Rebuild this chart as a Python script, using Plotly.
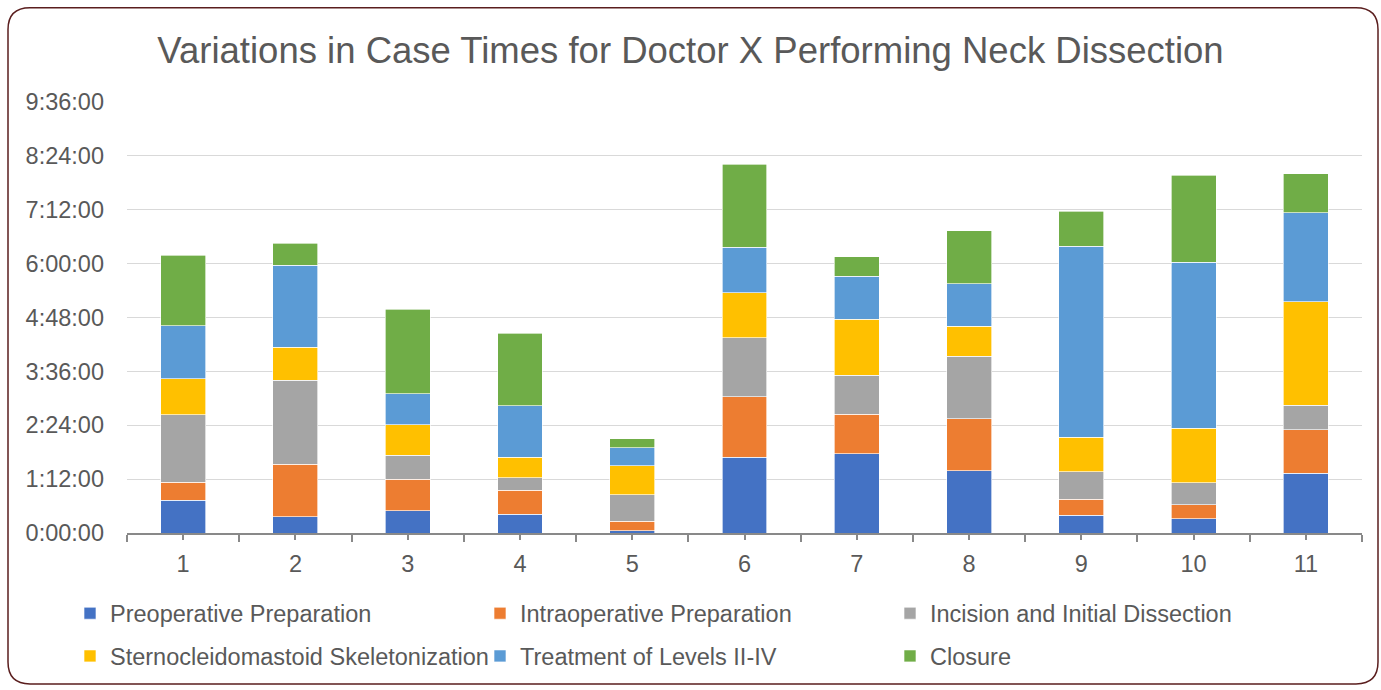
import plotly.graph_objects as go

# Case numbers and per-phase durations (minutes)
cases = [1, 2, 3, 4, 5, 6, 7, 8, 9, 10, 11]
preoperative = [44, 22, 30, 25, 3, 101, 106, 83, 24, 19, 80]
intraoperative = [24, 70, 42, 32, 13, 81, 53, 70, 21, 19, 58]
incision = [90, 112, 32, 17, 35, 79, 52, 83, 37, 29, 33]
scm_skeletonization = [48, 44, 41, 27, 39, 60, 75, 40, 46, 73, 138]
levels_ii_iv = [71, 110, 41, 69, 24, 61, 57, 57, 255, 222, 119]
closure = [94, 29, 113, 97, 12, 111, 26, 71, 47, 116, 52]

series_names = [
    "Preoperative Preparation",
    "Intraoperative Preparation",
    "Incision and Initial Dissection",
    "Sternocleidomastoid Skeletonization",
    "Treatment of Levels II-IV",
    "Closure",
]
series_values = [preoperative, intraoperative, incision,
                 scm_skeletonization, levels_ii_iv, closure]
colors = ["#4472C4", "#ED7D31", "#A5A5A5", "#FFC000", "#5B9BD5", "#70AD47"]

# y ticks every 1:12:00 (72 minutes)
tick_minutes = [0, 72, 144, 216, 288, 360, 432, 504, 576]
tick_labels = ["0:00:00", "1:12:00", "2:24:00", "3:36:00", "4:48:00",
               "6:00:00", "7:12:00", "8:24:00", "9:36:00"]

W, H = 1381, 690
ML, MR, MT, MB = 127, 19, 102, 154
PW, PH = W - ML - MR, H - MT - MB

FONT = "Liberation Sans, Arial, sans-serif"
TEXT = "#595959"
LABEL_SIZE = 23.5

fig = go.Figure()
for i, (name, vals, col) in enumerate(zip(series_names, series_values, colors)):
    fig.add_trace(go.Bar(
        x=cases, y=vals, name=name,
        marker=dict(color=col, line=dict(color="rgba(255,255,255,0.8)", width=0.8)),
        legend="legend" if i < 3 else "legend2",
    ))


def px_x(p):
    return (p - ML) / PW


def px_y(p):
    return (H - MB - p) / PH


def rounded_rect(x0, y0, x1, y1, r):
    # pixel box -> paper-coordinate path with rounded corners
    pts = [
        f"M {px_x(x0 + r)},{px_y(y0)}",
        f"L {px_x(x1 - r)},{px_y(y0)}",
        f"Q {px_x(x1)},{px_y(y0)} {px_x(x1)},{px_y(y0 + r)}",
        f"L {px_x(x1)},{px_y(y1 - r)}",
        f"Q {px_x(x1)},{px_y(y1)} {px_x(x1 - r)},{px_y(y1)}",
        f"L {px_x(x0 + r)},{px_y(y1)}",
        f"Q {px_x(x0)},{px_y(y1)} {px_x(x0)},{px_y(y1 - r)}",
        f"L {px_x(x0)},{px_y(y0 + r)}",
        f"Q {px_x(x0)},{px_y(y0)} {px_x(x0 + r)},{px_y(y0)}",
        "Z",
    ]
    return " ".join(pts)


boundaries = [c - 0.5 for c in cases] + [cases[-1] + 0.5]

legend_common = dict(
    orientation="h", xref="paper", yref="paper",
    xanchor="left", yanchor="middle", traceorder="normal",
    font=dict(family=FONT, size=LABEL_SIZE, color=TEXT),
    entrywidthmode="pixels", entrywidth=365,
    bgcolor="rgba(0,0,0,0)", itemclick=False,
)

fig.update_layout(
    width=W, height=H,
    margin=dict(l=ML, r=MR, t=MT, b=MB),
    paper_bgcolor="white", plot_bgcolor="white",
    barmode="stack", bargap=0.6,
    font=dict(family=FONT, color=TEXT),
    title=dict(
        text="Variations in Case Times for Doctor X Performing Neck Dissection",
        x=0.5, xanchor="center", y=1 - 50 / H, yanchor="middle",
        font=dict(family=FONT, size=36.5, color=TEXT),
    ),
    xaxis=dict(
        range=[0.5, 11.5], tickvals=cases, ticktext=[str(c) for c in cases],
        showgrid=False, zeroline=False,
        showline=True, linecolor="#898989", linewidth=1.5,
        ticks="outside", ticklen=5, tickcolor="#898989", tickwidth=1.5,
        minor=dict(tickvals=boundaries, ticks="outside", ticklen=7,
                   tickcolor="#898989", tickwidth=1.5, showgrid=False),
        ticklabelstandoff=4,
        tickfont=dict(family=FONT, size=LABEL_SIZE, color=TEXT),
    ),
    xaxis2=dict(
        overlaying="x", anchor="y", side="bottom", matches="x",
        range=[0.5, 11.5], tickvals=cases, showticklabels=False,
        showgrid=False, zeroline=False, showline=False,
        ticks="inside", ticklen=5, tickcolor="#898989", tickwidth=1.5,
        minor=dict(tickvals=boundaries, ticks="inside", ticklen=6,
                   tickcolor="#898989", tickwidth=1.5, showgrid=False),
    ),
    yaxis=dict(
        range=[0, 576], tickvals=tick_minutes, ticktext=tick_labels,
        showgrid=True, gridcolor="#D9D9D9", gridwidth=1.3,
        zeroline=False, showline=False, ticks="",
        ticklabelstandoff=22,
        tickfont=dict(family=FONT, size=LABEL_SIZE, color=TEXT),
    ),
    legend=dict(x=px_x(70), y=px_y(617), **legend_common),
    legend2=dict(x=px_x(70), y=px_y(660), **legend_common),
    shapes=[dict(
        type="path", xref="paper", yref="paper",
        path=rounded_rect(8, 7, 1378, 688, 22),
        line=dict(color="#5A1E1E", width=1.5), fillcolor="rgba(0,0,0,0)",
        layer="above",
    )],
    showlegend=True,
)

fig.write_html("out.html")
